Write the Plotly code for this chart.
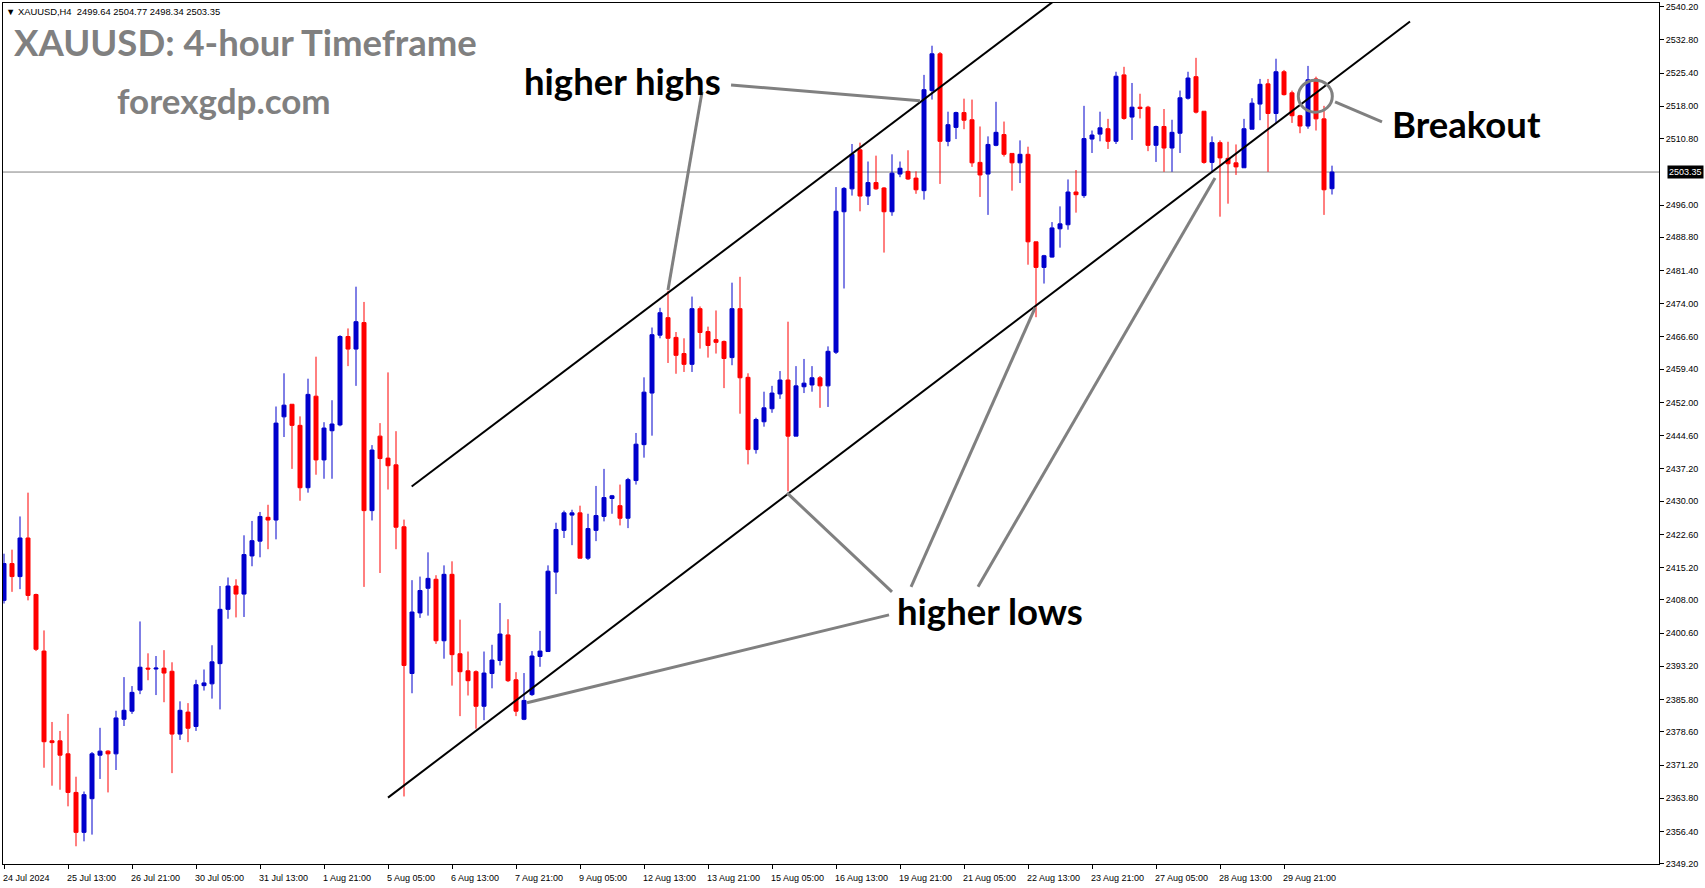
import plotly.graph_objects as go

# ---------------- data (XAUUSD H4, bar index 0 = 24 Jul 2024) ----------------
open_ = [
    2407.9, 2416.1, 2413.2, 2421.8, 2409.2, 2396.6, 2376.6, 2376.6, 2373.7, 2365.1,
    2356.2, 2363.7, 2373.4, 2374.3, 2373.7, 2381.4, 2383.2, 2387.9, 2392.8, 2392.6,
    2392.8, 2392.1, 2378.1, 2383.0, 2379.8, 2388.9, 2389.3, 2393.8, 2405.9, 2411.1,
    2409.3, 2417.8, 2421.1, 2426.4, 2425.8, 2448.8, 2451.6, 2446.9, 2433.0, 2453.4,
    2439.2, 2445.7, 2447.0, 2466.7, 2463.9, 2469.8, 2427.9, 2444.5, 2439.6, 2438.1,
    2424.3, 2391.6, 2405.1, 2410.6, 2412.6, 2398.9, 2413.7, 2396.0, 2392.2, 2392.0,
    2384.3, 2391.6, 2394.5, 2400.2, 2390.2, 2381.4, 2386.9, 2395.4, 2396.5, 2414.2,
    2423.5, 2426.9, 2427.4, 2417.3, 2423.5, 2426.6, 2430.6, 2429.0, 2426.2, 2434.6,
    2442.6, 2454.1, 2467.0, 2470.9, 2466.5, 2462.9, 2460.5, 2472.9, 2467.8, 2466.0,
    2465.6, 2462.0, 2472.9, 2457.6, 2441.5, 2447.7, 2450.6, 2453.9, 2457.0, 2444.5,
    2455.5, 2455.9, 2457.5, 2455.7, 2463.2, 2494.5, 2499.6, 2508.3, 2498.0, 2501.0,
    2499.8, 2494.5, 2502.9, 2503.5, 2502.0, 2499.2, 2521.5, 2529.7, 2510.2, 2513.3,
    2516.6, 2515.0, 2505.5, 2502.9, 2509.3, 2511.7, 2507.5, 2505.4, 2507.3, 2487.8,
    2482.1, 2484.4, 2490.7, 2491.6, 2498.9, 2498.1, 2510.7, 2511.8, 2513.0, 2510.2,
    2525.0, 2515.6, 2517.8, 2517.8, 2509.3, 2513.5, 2508.7, 2512.0, 2519.8, 2524.6,
    2516.9, 2505.5, 2509.9, 2506.4, 2505.4, 2504.3, 2512.9, 2518.5, 2523.0, 2516.4,
    2525.7, 2521.0, 2515.9, 2513.6, 2524.1, 2515.2, 2499.64,
]
high = [
    2418.3, 2419.2, 2426.6, 2431.9, 2409.4, 2401.2, 2380.8, 2378.8, 2382.6, 2368.6,
    2365.3, 2374.1, 2379.5, 2374.5, 2383.3, 2390.8, 2388.8, 2403.2, 2396.1, 2395.5,
    2396.8, 2394.1, 2385.4, 2385.0, 2390.2, 2392.5, 2397.9, 2411.1, 2413.0, 2412.6,
    2422.4, 2425.6, 2427.6, 2429.2, 2451.1, 2458.5, 2451.6, 2448.9, 2457.3, 2462.2,
    2447.6, 2452.5, 2467.0, 2468.5, 2477.8, 2474.4, 2442.5, 2447.4, 2458.7, 2445.6,
    2425.9, 2412.4, 2413.2, 2418.6, 2413.5, 2415.7, 2416.6, 2403.6, 2396.5, 2392.3,
    2396.5, 2398.0, 2407.3, 2403.7, 2391.9, 2391.7, 2396.6, 2401.1, 2415.7, 2425.2,
    2427.9, 2428.1, 2429.0, 2427.2, 2433.4, 2437.2, 2431.4, 2433.7, 2435.2, 2445.2,
    2457.6, 2468.7, 2473.1, 2476.9, 2467.7, 2466.3, 2475.6, 2473.4, 2468.9, 2472.5,
    2465.8, 2478.7, 2480.0, 2458.5, 2448.6, 2454.4, 2455.7, 2459.0, 2470.0, 2460.1,
    2461.7, 2460.1, 2457.9, 2464.5, 2500.0, 2500.0, 2509.6, 2509.9, 2505.7, 2507.0,
    2500.0, 2507.3, 2505.7, 2508.2, 2503.5, 2525.0, 2531.5, 2530.1, 2516.8, 2516.8,
    2519.7, 2519.5, 2513.5, 2511.3, 2519.0, 2514.6, 2507.5, 2510.4, 2509.0, 2487.8,
    2484.9, 2492.2, 2495.7, 2501.7, 2503.8, 2518.1, 2512.6, 2516.8, 2515.2, 2525.7,
    2526.8, 2523.2, 2520.8, 2518.1, 2513.7, 2517.4, 2515.0, 2521.5, 2525.7, 2528.8,
    2516.9, 2511.3, 2510.4, 2510.1, 2509.5, 2515.2, 2519.8, 2524.1, 2524.1, 2528.6,
    2526.1, 2521.5, 2516.1, 2527.0, 2524.6, 2518.1, 2504.77,
]
low = [
    2407.2, 2409.8, 2410.4, 2407.9, 2396.6, 2370.6, 2366.6, 2365.7, 2362.0, 2353.1,
    2354.2, 2355.7, 2368.1, 2365.1, 2370.1, 2379.9, 2382.6, 2387.0, 2390.1, 2386.8,
    2385.2, 2369.4, 2376.8, 2376.3, 2378.8, 2387.8, 2386.0, 2383.6, 2403.8, 2404.1,
    2404.2, 2415.5, 2417.5, 2419.3, 2421.5, 2444.3, 2437.2, 2430.1, 2431.9, 2435.9,
    2435.0, 2435.0, 2446.7, 2460.1, 2455.7, 2410.9, 2425.7, 2414.0, 2432.6, 2419.3,
    2364.2, 2387.2, 2404.0, 2404.5, 2398.2, 2394.9, 2388.9, 2382.1, 2386.7, 2379.3,
    2381.2, 2388.3, 2393.4, 2389.7, 2382.1, 2381.2, 2386.6, 2393.1, 2396.5, 2409.3,
    2421.8, 2420.2, 2417.3, 2416.9, 2421.1, 2425.5, 2427.2, 2424.6, 2424.0, 2433.7,
    2439.7, 2444.6, 2466.3, 2460.8, 2458.4, 2458.8, 2458.8, 2464.0, 2462.0, 2462.9,
    2455.2, 2460.3, 2449.5, 2438.2, 2440.6, 2446.6, 2449.7, 2452.8, 2432.2, 2444.5,
    2454.1, 2454.4, 2450.8, 2451.0, 2462.8, 2477.4, 2498.1, 2494.6, 2496.0, 2499.4,
    2485.4, 2493.6, 2502.2, 2501.6, 2498.5, 2497.2, 2519.5, 2500.7, 2509.1, 2510.7,
    2512.9, 2504.5, 2497.8, 2493.8, 2509.1, 2506.8, 2499.2, 2500.9, 2482.7, 2471.0,
    2478.5, 2484.3, 2486.5, 2490.5, 2494.3, 2497.6, 2507.6, 2510.2, 2508.5, 2509.6,
    2515.0, 2510.5, 2515.3, 2508.0, 2505.6, 2503.4, 2503.4, 2507.6, 2519.5, 2516.4,
    2505.2, 2503.2, 2493.4, 2496.3, 2502.7, 2504.3, 2512.9, 2514.9, 2503.4, 2514.1,
    2520.4, 2514.3, 2512.0, 2513.0, 2512.6, 2493.8, 2498.34,
]
close = [
    2416.1, 2413.2, 2421.8, 2409.0, 2397.0, 2376.4, 2376.2, 2373.4, 2365.1, 2356.2,
    2364.6, 2373.7, 2374.3, 2373.7, 2381.7, 2383.4, 2387.4, 2393.0, 2392.6, 2392.8,
    2391.7, 2378.1, 2383.4, 2379.4, 2389.1, 2389.5, 2394.2, 2405.9, 2411.1, 2409.3,
    2418.1, 2421.2, 2426.6, 2425.8, 2447.4, 2451.4, 2446.9, 2433.0, 2453.8, 2439.2,
    2446.3, 2447.2, 2466.7, 2463.9, 2470.0, 2427.9, 2441.4, 2439.5, 2437.9, 2424.2,
    2393.4, 2405.3, 2410.1, 2412.8, 2398.9, 2413.7, 2395.8, 2392.0, 2390.0, 2384.3,
    2391.7, 2394.6, 2400.4, 2390.0, 2383.2, 2385.6, 2395.5, 2396.6, 2414.4, 2423.7,
    2427.4, 2427.4, 2417.3, 2423.9, 2426.8, 2430.8, 2431.2, 2426.2, 2434.8, 2442.7,
    2454.3, 2467.1, 2472.0, 2466.3, 2462.5, 2460.5, 2472.9, 2467.6, 2464.7, 2465.4,
    2461.8, 2472.9, 2457.5, 2441.5, 2448.2, 2450.8, 2454.1, 2457.0, 2444.5, 2455.7,
    2456.3, 2457.5, 2455.7, 2463.4, 2494.6, 2499.7, 2507.3, 2498.0, 2501.0, 2499.6,
    2494.5, 2503.1, 2504.2, 2501.8, 2499.4, 2521.7, 2529.7, 2510.2, 2513.9, 2516.6,
    2514.9, 2505.4, 2502.7, 2509.5, 2512.2, 2507.3, 2505.4, 2507.3, 2487.8, 2482.1,
    2484.7, 2490.9, 2491.8, 2498.9, 2498.3, 2510.8, 2511.6, 2513.2, 2510.2, 2524.7,
    2515.3, 2517.8, 2517.5, 2509.3, 2513.5, 2508.7, 2512.2, 2519.9, 2524.3, 2516.7,
    2505.5, 2509.9, 2506.5, 2505.2, 2504.5, 2513.0, 2518.7, 2522.9, 2516.4, 2525.7,
    2520.6, 2515.9, 2513.6, 2523.9, 2515.2, 2499.4, 2503.35,
]
bars = list(range(len(close)))

x_tick_bars = [0, 8, 16, 24, 32, 40, 48, 56, 64, 72, 80, 88, 96, 104, 112, 120, 128, 136, 144, 152, 160]
x_tick_labels = ["24 Jul 2024", "25 Jul 13:00", "26 Jul 21:00", "30 Jul 05:00", "31 Jul 13:00",
                 "1 Aug 21:00", "5 Aug 05:00", "6 Aug 13:00", "7 Aug 21:00", "9 Aug 05:00",
                 "12 Aug 13:00", "13 Aug 21:00", "15 Aug 05:00", "16 Aug 13:00", "19 Aug 21:00",
                 "21 Aug 05:00", "22 Aug 13:00", "23 Aug 21:00", "27 Aug 05:00", "28 Aug 13:00",
                 "29 Aug 21:00"]
y_tick_labels = ["2540.20", "2532.80", "2525.40", "2518.00", "2510.80", "2496.00", "2488.80",
                 "2481.40", "2474.00", "2466.60", "2459.40", "2452.00", "2444.60", "2437.20",
                 "2430.00", "2422.60", "2415.20", "2408.00", "2400.60", "2393.20", "2385.80",
                 "2378.60", "2371.20", "2363.80", "2356.40", "2349.20"]

# channel trendlines (bar, price)
upper_channel_bars = [50.96, 131.08]
upper_channel_prices = [2433.26, 2541.24]
lower_channel_bars = [48.0, 175.75]
lower_channel_prices = [2363.95, 2536.90]

# grey pointer lines (bar0, price0, bar1, price1)
pointer_bars0 = [87.25, 90.88, 110.63, 111.0, 113.38, 121.75, 166.38]
pointer_prices0 = [2521.19, 2522.75, 2404.67, 2409.8, 2410.91, 2410.91, 2518.97]
pointer_bars1 = [83.0, 114.5, 65.38, 97.88, 128.88, 151.38, 172.25]
pointer_prices1 = [2477.08, 2519.25, 2385.07, 2431.85, 2473.07, 2502.03, 2514.51]
breakout_circle_bars = [161.79, 166.04]
breakout_circle_prices = [2516.69, 2523.82]

label_texts = ["higher highs", "higher lows", "Breakout"]
label_bars = [64.8, 111.4, 173.2]
label_prices = [2523.75, 2405.56, 2514.06]

# ---------------- figure ----------------
W, H = 1705, 888
ML, MR, MT, MB = 3, 46, 3, 24
PW, PH = W - ML - MR, H - MT - MB

def px_x(x):
    return (x - ML) / PW

def px_y(y):
    return 1 - (y - MT) / PH

BLUE = "#0000CC"
RED = "#FF0000"
GREY = "#808080"
TICKFONT = dict(family="Liberation Sans, Arial, sans-serif", size=9, color="black")

fig = go.Figure()
fig.add_trace(go.Candlestick(
    x=bars, open=open_, high=high, low=low, close=close,
    increasing=dict(line=dict(color=BLUE, width=1), fillcolor=BLUE),
    decreasing=dict(line=dict(color=RED, width=1), fillcolor=RED),
    whiskerwidth=0, showlegend=False, hoverinfo="skip",
))

shapes = []
# current price line
shapes.append(dict(type="line", xref="paper", x0=0, x1=1, yref="y",
                   y0=close[-1], y1=close[-1], line=dict(color=GREY, width=1), layer="below"))
# channel
shapes.append(dict(type="line", xref="x", yref="y",
                   x0=upper_channel_bars[0], y0=upper_channel_prices[0],
                   x1=upper_channel_bars[1], y1=upper_channel_prices[1],
                   line=dict(color="black", width=2)))
shapes.append(dict(type="line", xref="x", yref="y",
                   x0=lower_channel_bars[0], y0=lower_channel_prices[0],
                   x1=lower_channel_bars[1], y1=lower_channel_prices[1],
                   line=dict(color="black", width=2)))
for b0, p0, b1, p1 in zip(pointer_bars0, pointer_prices0, pointer_bars1, pointer_prices1):
    shapes.append(dict(type="line", xref="x", yref="y", x0=b0, y0=p0, x1=b1, y1=p1,
                       line=dict(color=GREY, width=3)))
shapes.append(dict(type="circle", xref="x", yref="y",
                   x0=breakout_circle_bars[0], x1=breakout_circle_bars[1],
                   y0=breakout_circle_prices[0], y1=breakout_circle_prices[1],
                   line=dict(color=GREY, width=3)))

annotations = []
for b, t in zip(x_tick_bars, x_tick_labels):
    annotations.append(dict(x=b, xref="x", y=0, yref="paper", text=t, showarrow=False,
                            xanchor="left", yanchor="top", xshift=-3, yshift=-7,
                            font=TICKFONT))
# current price tag
annotations.append(dict(x=1, xref="paper", y=close[-1], yref="y", text=f"{close[-1]:.2f}",
                        showarrow=False, xanchor="left", yanchor="middle", xshift=8,
                        bgcolor="black", borderpad=1,
                        font=dict(family="Liberation Sans, Arial, sans-serif", size=9, color="white")))
# header
annotations.append(dict(x=px_x(4), xref="paper", y=px_y(11), yref="paper",
                        text=f"▼ XAUUSD,H4  {open_[-1]:.2f} {high[-1]:.2f} {low[-1]:.2f} {close[-1]:.2f}",
                        showarrow=False, xanchor="left", yanchor="middle",
                        font=dict(family="Liberation Sans, Arial, sans-serif", size=9.4, color="black")))
# watermark titles
annotations.append(dict(x=px_x(12), xref="paper", y=px_y(42), yref="paper",
                        text="<b>XAUUSD: 4-hour Timeframe</b>", showarrow=False,
                        xanchor="left", yanchor="middle",
                        font=dict(family="Lato, sans-serif", size=36.5, color=GREY)))
annotations.append(dict(x=px_x(115), xref="paper", y=px_y(100), yref="paper",
                        text="<b>forexgdp.com</b>", showarrow=False,
                        xanchor="left", yanchor="middle",
                        font=dict(family="Lato, sans-serif", size=35, color=GREY)))
for t, b, p in zip(label_texts, label_bars, label_prices):
    annotations.append(dict(x=b, xref="x", y=p, yref="y", text=f"<b>{t}</b>", showarrow=False,
                            xanchor="left", yanchor="middle",
                            font=dict(family="Lato, sans-serif", size=36.5, color="black")))

fig.update_layout(
    width=W, height=H,
    margin=dict(l=ML, r=MR, t=MT, b=MB, pad=0),
    paper_bgcolor="white", plot_bgcolor="white",
    showlegend=False, boxgap=0.5, boxgroupgap=0,
    shapes=shapes, annotations=annotations,
    xaxis=dict(range=[-0.125, 206.875], rangeslider=dict(visible=False),
               showgrid=False, zeroline=False, showline=True, linecolor="black", linewidth=1,
               mirror=True, ticks="outside", ticklen=4, tickcolor="black",
               tickmode="array", tickvals=x_tick_bars, showticklabels=False, fixedrange=True),
    yaxis=dict(range=[2349.15, 2541.02], side="right",
               showgrid=False, zeroline=False, showline=True, linecolor="black", linewidth=1,
               mirror=True, ticks="outside", ticklen=4, tickcolor="black",
               tickmode="array", tickvals=[float(v) for v in y_tick_labels],
               ticktext=y_tick_labels, tickfont=TICKFONT, fixedrange=True),
)

fig.write_html("out.html", config={"displayModeBar": False},
               post_script="document.body.style.margin='0px';document.body.style.overflow='hidden';")
